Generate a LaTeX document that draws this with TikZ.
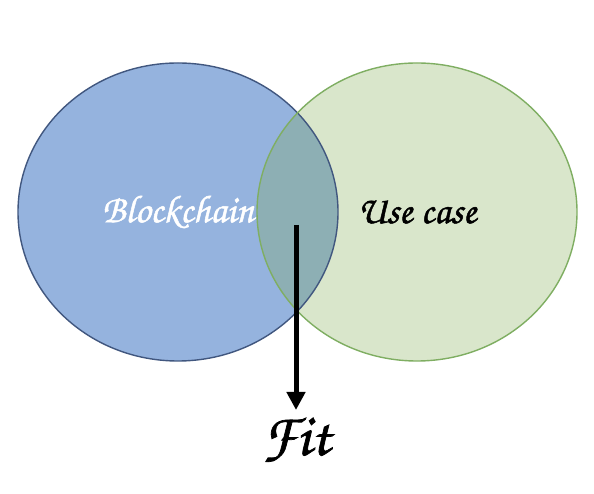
\documentclass[tikz,border=0pt]{standalone}
\usepackage{fontspec}
\newfontfamily\vennfont[FakeBold=1.2]{TeX Gyre Chorus}
\usepackage{tikz}
\usetikzlibrary{shapes.geometric,arrows.meta,positioning,backgrounds}

\definecolor{bcfill}{RGB}{149,179,222}
\definecolor{bcline}{RGB}{65,87,127}
\definecolor{ucfill}{RGB}{217,230,203}
\definecolor{ucline}{RGB}{127,174,98}
\definecolor{lensfill}{RGB}{141,175,180}

\begin{document}
\begin{tikzpicture}[
    x=1pt, y=1pt,
    venn/.style={ellipse, draw, line width=1.4pt, minimum width=320pt, minimum height=298pt, inner sep=0pt, font=\vennfont\fontsize{39}{39}\selectfont},
    arrow/.style={-{Triangle[width=18pt,length=18pt]}, line width=5pt}
]
\useasboundingbox (0,0) rectangle (594,494);

\node[venn, draw=bcline, text=white] (bc) at (178,282) {Blockchain};
\node[venn, draw=ucline] (uc) at (417,282) {Use case};

% fills behind the outlines
\begin{scope}[on background layer]
  \fill[bcfill] (bc.center) ellipse[x radius=160pt, y radius=149pt];
  \fill[ucfill] (uc.center) ellipse[x radius=160pt, y radius=149pt];
  \begin{scope}
    \clip (bc.center) ellipse[x radius=160pt, y radius=149pt];
    \fill[lensfill] (uc.center) ellipse[x radius=160pt, y radius=149pt];
  \end{scope}
\end{scope}

\coordinate (start) at (296,269);
\node[font=\vennfont\fontsize{60}{60}\selectfont, inner sep=0pt, anchor=base] (fit) at (296,39) {Fit};
\draw[arrow] (start) -- (start |- 0,84);
\end{tikzpicture}
\end{document}
